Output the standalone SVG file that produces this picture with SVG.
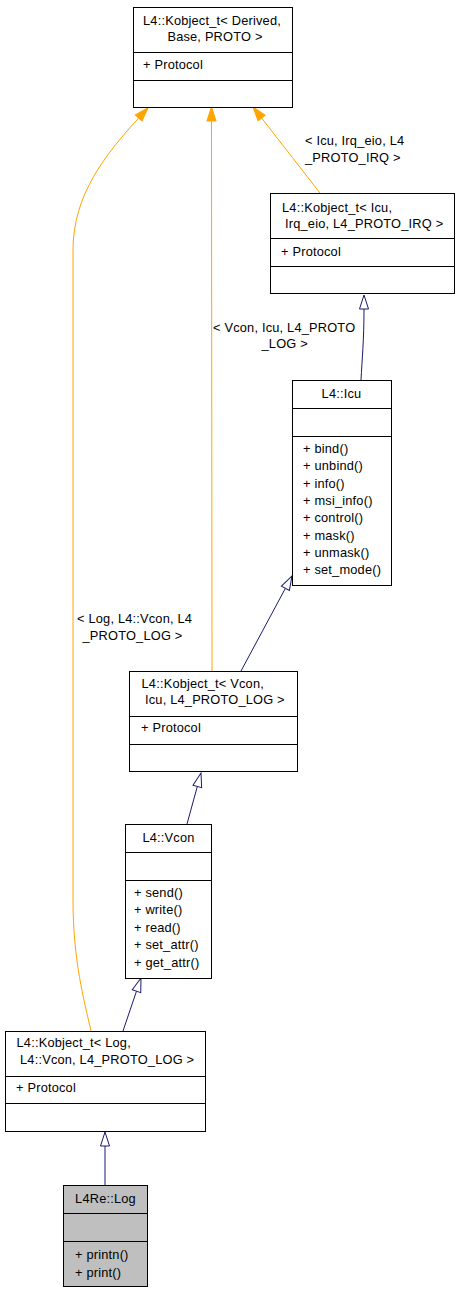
<svg xmlns="http://www.w3.org/2000/svg" width="460" height="1293" viewBox="0 0 460 1293">
<style>
text{font-family:"Liberation Sans",Arial,Helvetica,sans-serif;font-size:12.8px;letter-spacing:0.2px;fill:#000}
.c{text-anchor:middle}
.box{fill:#fff;stroke:#000;stroke-width:1}
.sel{fill:#bfbfbf;stroke:#000;stroke-width:1}
.div{stroke:#000;stroke-width:1}
.eo{fill:none;stroke:#ffa500;stroke-width:1}
.en{fill:none;stroke:#191970;stroke-width:1}
</style>
<defs>
<marker id="ao" markerUnits="userSpaceOnUse" markerWidth="18" markerHeight="14" refX="1" refY="7" orient="auto" overflow="visible"><path d="M1,2.5 L15,7 L1,11.5 z" fill="#ffa500" stroke="#ffa500"/></marker>
<marker id="an" markerUnits="userSpaceOnUse" markerWidth="18" markerHeight="14" refX="1" refY="7" orient="auto" overflow="visible"><path d="M1,2.5 L15,7 L1,11.5 z" fill="#fff" stroke="#191970"/></marker>
</defs>
<g id="edges">
<path class="eo" d="M320,193 L261.6,118" marker-end="url(#ao)"/>
<path class="eo" d="M212,671 L211.5,121" marker-end="url(#ao)"/>
<path class="eo" d="M91,1031 C84,1000 73,960 73,900 L73,250 C73,195 105,155 138.7,118" marker-end="url(#ao)"/>
<path class="en" d="M361,380 C362,360 364,340 364,309" marker-end="url(#an)"/>
<path class="en" d="M241,671 L285.4,588.3" marker-end="url(#an)"/>
<path class="en" d="M187,824 L197.3,786.5" marker-end="url(#an)"/>
<path class="en" d="M123,1031 L136.5,991.2" marker-end="url(#an)"/>
<path class="en" d="M105,1185 L105,1146" marker-end="url(#an)"/>
<text x="305" y="145">&lt; Icu, Irq_eio, L4</text>
<text x="305" y="161.5">_PROTO_IRQ &gt;</text>
<text x="213" y="331.5">&lt; Vcon, Icu, L4_PROTO</text>
<text x="261.5" y="348">_LOG &gt;</text>
<text x="77" y="623">&lt; Log, L4::Vcon, L4</text>
<text x="82.5" y="640">_PROTO_LOG &gt;</text>
</g>
<g id="kobject_base">
<rect class="box" x="133.5" y="7.5" width="159" height="100"/>
<line class="div" x1="133.5" y1="52.5" x2="292.5" y2="52.5"/>
<line class="div" x1="133.5" y1="80.5" x2="292.5" y2="80.5"/>
<text class="c" x="212" y="25">L4::Kobject_t&lt; Derived,</text>
<text class="c" x="215" y="40.5">Base, PROTO &gt;</text>
<text x="143" y="68.5">+ Protocol</text>
</g>
<g id="kobject_icu">
<rect class="box" x="270.5" y="193.5" width="184" height="100"/>
<line class="div" x1="270.5" y1="238.5" x2="454.5" y2="238.5"/>
<line class="div" x1="270.5" y1="266.5" x2="454.5" y2="266.5"/>
<text x="282" y="212">L4::Kobject_t&lt; Icu,</text>
<text x="285" y="228">Irq_eio, L4_PROTO_IRQ &gt;</text>
<text x="281" y="255.5">+ Protocol</text>
</g>
<g id="icu">
<rect class="box" x="292.5" y="380.5" width="99" height="205"/>
<line class="div" x1="292.5" y1="408.5" x2="391.5" y2="408.5"/>
<line class="div" x1="292.5" y1="436.5" x2="391.5" y2="436.5"/>
<text class="c" x="341.5" y="397.5">L4::Icu</text>
<text x="303" y="453">+ bind()</text>
<text x="303" y="470.3">+ unbind()</text>
<text x="303" y="487.6">+ info()</text>
<text x="303" y="504.9">+ msi_info()</text>
<text x="303" y="522.2">+ control()</text>
<text x="303" y="539.5">+ mask()</text>
<text x="303" y="556.8">+ unmask()</text>
<text x="303" y="574.1">+ set_mode()</text>
</g>
<g id="kobject_vcon">
<rect class="box" x="129.5" y="671.5" width="168" height="100"/>
<line class="div" x1="129.5" y1="716.5" x2="297.5" y2="716.5"/>
<line class="div" x1="129.5" y1="744.5" x2="297.5" y2="744.5"/>
<text x="141.5" y="688">L4::Kobject_t&lt; Vcon,</text>
<text x="145" y="704">Icu, L4_PROTO_LOG &gt;</text>
<text x="141" y="731.5">+ Protocol</text>
</g>
<g id="vcon">
<rect class="box" x="125.5" y="824.5" width="86" height="154"/>
<line class="div" x1="125.5" y1="852.5" x2="211.5" y2="852.5"/>
<line class="div" x1="125.5" y1="880.5" x2="211.5" y2="880.5"/>
<text class="c" x="168.5" y="841.5">L4::Vcon</text>
<text x="134" y="897">+ send()</text>
<text x="134" y="914.4">+ write()</text>
<text x="134" y="931.8">+ read()</text>
<text x="134" y="949.2">+ set_attr()</text>
<text x="134" y="966.6">+ get_attr()</text>
</g>
<g id="kobject_log">
<rect class="box" x="5.5" y="1031.5" width="200" height="100"/>
<line class="div" x1="5.5" y1="1076.5" x2="205.5" y2="1076.5"/>
<line class="div" x1="5.5" y1="1103.5" x2="205.5" y2="1103.5"/>
<text x="16.5" y="1047">L4::Kobject_t&lt; Log,</text>
<text x="20" y="1064">L4::Vcon, L4_PROTO_LOG &gt;</text>
<text x="16" y="1091.5">+ Protocol</text>
</g>
<g id="l4re_log">
<rect class="sel" x="63.5" y="1185.5" width="84" height="101"/>
<line class="div" x1="63.5" y1="1213.5" x2="147.5" y2="1213.5"/>
<line class="div" x1="63.5" y1="1241.5" x2="147.5" y2="1241.5"/>
<text class="c" x="105.5" y="1203">L4Re::Log</text>
<text x="75" y="1259">+ printn()</text>
<text x="75" y="1276.5">+ print()</text>
</g>
</svg>
